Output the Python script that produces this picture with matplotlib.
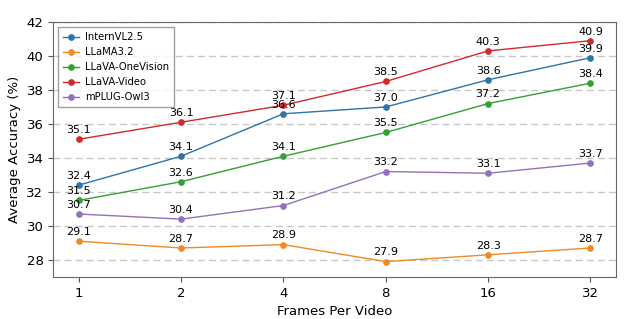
import matplotlib
matplotlib.use("Agg")
import matplotlib.pyplot as plt
import numpy as np

frames = ["1", "2", "4", "8", "16", "32"]
internvl = [32.4, 34.1, 36.6, 37.0, 38.6, 39.9]
llama = [29.1, 28.7, 28.9, 27.9, 28.3, 28.7]
onevision = [31.5, 32.6, 34.1, 35.5, 37.2, 38.4]
llava_video = [35.1, 36.1, 37.1, 38.5, 40.3, 40.9]
owl = [30.7, 30.4, 31.2, 33.2, 33.1, 33.7]

series = [
    ("InternVL2.5", internvl, "#2f74a8"),
    ("LLaMA3.2", llama, "#f08a24"),
    ("LLaVA-OneVision", onevision, "#34a034"),
    ("LLaVA-Video", llava_video, "#d02a2e"),
    ("mPLUG-Owl3", owl, "#9470bb"),
]

fig = plt.figure(figsize=(6.4, 3.19), dpi=100)
ax = fig.add_axes([0.083, 0.132, 0.8795, 0.799])

x = np.arange(len(frames))
for name, vals, col in series:
    ax.plot(x, vals, marker="o", markersize=3.8, linewidth=1.0, color=col, label=name)
    for xi, v in zip(x, vals):
        ax.annotate(f"{v:.1f}", (xi, v), xytext=(0, 3), textcoords="offset points",
                    ha="center", va="bottom", fontsize=8)

ax.set_xticks(x)
ax.set_xticklabels(frames)
ax.set_ylim(27, 42)
ax.set_yticks(np.arange(28, 43, 2))
ax.yaxis.grid(True, linestyle=(0, (5, 3)), color="#c8c8c8", linewidth=1)
ax.set_axisbelow(True)
ax.tick_params(labelsize=9.5, color="#555555")
for s in ax.spines.values():
    s.set_color("#666666")

ax.set_xlabel("Frames Per Video", fontsize=9.5)
ax.set_ylabel("Average Accuracy (%)", fontsize=9.5)
ax.legend(loc="upper left", fontsize=7.2, frameon=True, fancybox=False,
          edgecolor="#888888", handlelength=1.6, handletextpad=0.6,
          borderpad=0.5, labelspacing=0.5)

fig.savefig("out.png", dpi=100)
